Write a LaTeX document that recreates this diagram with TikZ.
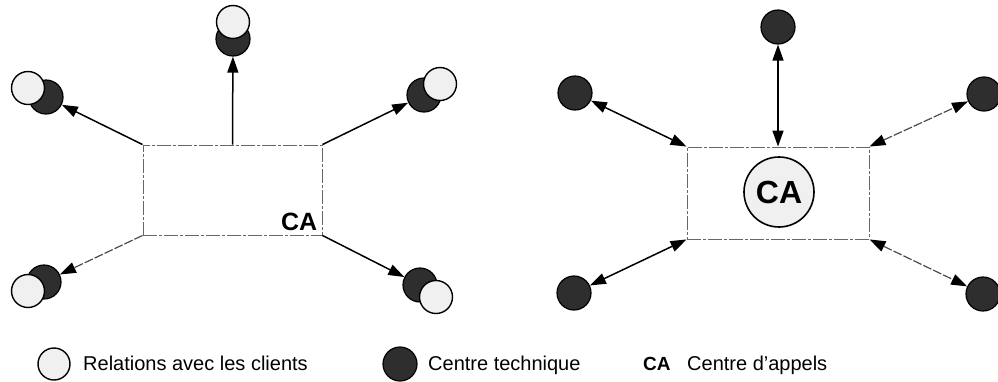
\documentclass[tikz,border=0pt]{standalone}
\usepackage{fontspec}
\setmainfont{Liberation Sans}
\usetikzlibrary{arrows.meta}
\begin{document}
\begin{tikzpicture}[x=1pt,y=-1pt,
  light/.style={circle,draw=black,line width=1.4pt,fill=gray!12,minimum size=33pt,inner sep=0pt},
  dark/.style={circle,draw=black,line width=1.2pt,fill=black!82,minimum size=34pt,inner sep=0pt},
  boxstyle/.style={draw=black!60,line width=0.9pt,dash pattern=on 14pt off 2pt on 3pt off 2pt,inner sep=0pt},
  arr/.style={line width=1.5pt,-{Triangle[length=16pt,width=11pt,color=black]}},
  darr/.style={line width=1.5pt,{Triangle[length=16pt,width=11pt,color=black]}-{Triangle[length=16pt,width=11pt,color=black]}},
  faint/.style={draw=black!70,line width=1.2pt,dash pattern=on 9pt off 2pt},
  legtext/.style={font=\fontsize{20}{24}\selectfont,anchor=base west,inner sep=0pt},
]
\useasboundingbox (0,0) rectangle (998,381);

% ---------- left diagram ----------
\node[boxstyle,minimum width=179pt,minimum height=90pt] (boxL) at (232.5,190) {};
\node[font=\fontsize{25}{30}\selectfont\bfseries,anchor=base east,inner sep=0pt] (caL)
  at ([xshift=-5pt,yshift=5pt]boxL.south east) {CA};

\node[dark] (dT)  at (233,39) {};
\node[light] (lT) at (233,22) {};
\node[dark] (dUL)  at (46,97) {};
\node[light] (lUL) at (28,88) {};
\node[dark] (dUR)  at (424,95) {};
\node[light] (lUR) at (440,84) {};
\node[dark] (dLL)  at (44,282) {};
\node[light] (lLL) at (28,291) {};
\node[dark] (dLR)  at (420,285) {};
\node[light] (lLR) at (436,297) {};

\draw[arr] (boxL.north) -- (dT);
\draw[arr] (boxL.north west) -- (dUL);
\draw[arr] (boxL.north east) -- (dUR);
\draw[arr,faint] (boxL.south west) -- (dLL);
\draw[arr] (boxL.south east) -- (dLR);

% ---------- right diagram ----------
\node[boxstyle,minimum width=182pt,minimum height=92pt] (boxR) at (778,193) {};
\node[circle,draw=black,line width=1.6pt,fill=gray!12,minimum size=70pt,inner sep=0pt,
  font=\fontsize{32}{38}\selectfont\bfseries] (caR) at (779,192) {CA};

\node[dark] (rT)  at (778,27) {};
\node[dark] (rUL) at (575,93) {};
\node[dark] (rUR) at (984,94) {};
\node[dark] (rLL) at (574,293) {};
\node[dark] (rLR) at (983,294) {};

\draw[darr] (boxR.north) -- (rT);
\draw[darr] (boxR.north west) -- (rUL);
\draw[darr,faint] (boxR.north east) -- (rUR);
\draw[darr] (boxR.south west) -- (rLL);
\draw[darr,faint] (boxR.south east) -- (rLR);

% ---------- legend ----------
\node[light,minimum size=32pt] (legL) at (54,364) {};
\node[legtext] (legLt) at (83,370) {Relations avec les clients};
\node[dark] (legD) at (400,364) {};
\node[legtext] (legDt) at (428,370) {Centre technique};
\node[legtext,font=\fontsize{19}{22}\selectfont\bfseries] (legCA) at (643,370) {CA};
\node[legtext] (legCAt) at (687,370) {Centre d'appels};
\end{tikzpicture}
\end{document}
